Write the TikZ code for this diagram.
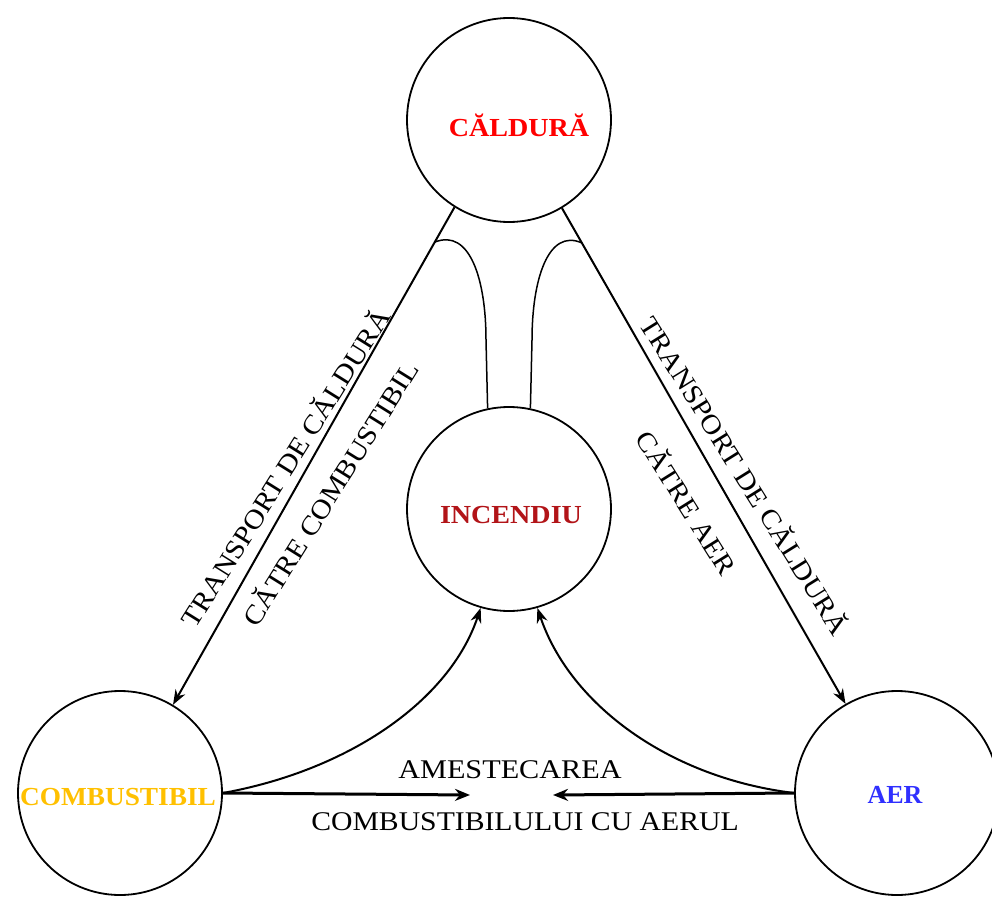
\documentclass[tikz,border=0pt]{standalone}
\usepackage{fontspec}
\setmainfont{Liberation Serif}
\usetikzlibrary{arrows.meta,calc}

\definecolor{heatred}{RGB}{255,0,0}
\definecolor{firered}{RGB}{178,20,24}
\definecolor{fuelgold}{RGB}{255,192,0}
\definecolor{airblue}{RGB}{48,48,255}

\tikzset{
  element/.style={circle,draw=black,line width=1.8pt,minimum size=204pt,inner sep=0pt},
  tag/.style={font=\fontsize{26}{28}\selectfont\bfseries,inner sep=0pt},
  caption/.style={font=\fontsize{27}{29}\selectfont,inner sep=0pt,text=black},
  flow/.style={line width=2pt,-{Stealth[length=15pt,width=11pt]}},
  heavyflow/.style={line width=3pt,-{Stealth[length=15pt,width=12pt]}},
  link/.style={line width=1.5pt}
}

\begin{document}
\begin{tikzpicture}[x=1pt,y=-1pt]
  \useasboundingbox (0,0) rectangle (992,896);

  % the four circles of the fire model
  \node[element] (cal)  at (509,120) {};
  \node[element] (inc)  at (509,509) {};
  \node[element] (comb) at (120,793) {};
  \node[element] (aer)  at (897,793) {};

  % names inside the circles
  \node[tag,text=heatred]  (calt)  at (519,125) {\scalebox{1.08}[1]{CĂLDURĂ}};
  \node[tag,text=firered]  (inct)  at (511,515) {\scalebox{1.08}[1]{INCENDIU}};
  \node[tag,text=fuelgold] (combt) at (118,797) {\scalebox{1.05}[1]{COMBUSTIBIL}};
  \node[tag,text=airblue]  (aert)  at (895,795) {AER};

  % heat transport towards fuel and air
  \draw[flow] (cal.238) -- (comb.59);
  \draw[flow] (cal.301) -- (aer.120);

  % two arcs joining the heat circle to the fire circle
  \coordinate (lt) at ($(cal.238)!0.07!(comb.59)$);
  \coordinate (rt) at ($(cal.301)!0.07!(aer.120)$);
  \draw[link] (lt) .. controls (470,228) and (486,280) .. (486,340) -- (inc.102);
  \draw[link] (rt) .. controls (548,228) and (532,280) .. (532,340) -- (inc.78);

  % mixing of fuel and air
  \coordinate (mixl) at (470,795);
  \coordinate (mixr) at (553,795);
  \draw[heavyflow] (comb.east) -- (mixl);
  \draw[heavyflow] (aer.west) -- (mixr);

  % fuel and air feeding the fire
  \draw[flow] (comb.east) .. controls (350,770) and (450,700) .. (inc.254);
  \draw[flow] (aer.west) .. controls (670,778) and (570,705) .. (inc.286);

  % captions
  \node[caption,rotate=58] (tl1) at (284,467) {\scalebox{1.1}[1]{TRANSPORT DE CĂLDURĂ}};
  \node[caption,rotate=58] (tl2) at (329,493) {\scalebox{1.1}[1]{CĂTRE COMBUSTIBIL}};
  \node[caption,rotate=-58] (tr1) at (746,475) {\scalebox{1.1}[1]{TRANSPORT DE CĂLDURĂ}};
  \node[caption,rotate=-58] (tr2) at (688,502) {\scalebox{1.1}[1]{CĂTRE AER}};
  \node[caption] (mix1) at (510,770) {\scalebox{1.12}[1]{AMESTECAREA}};
  \node[caption] (mix2) at (525,822) {\scalebox{1.1}[1]{COMBUSTIBILULUI CU AERUL}};
\end{tikzpicture}
\end{document}
